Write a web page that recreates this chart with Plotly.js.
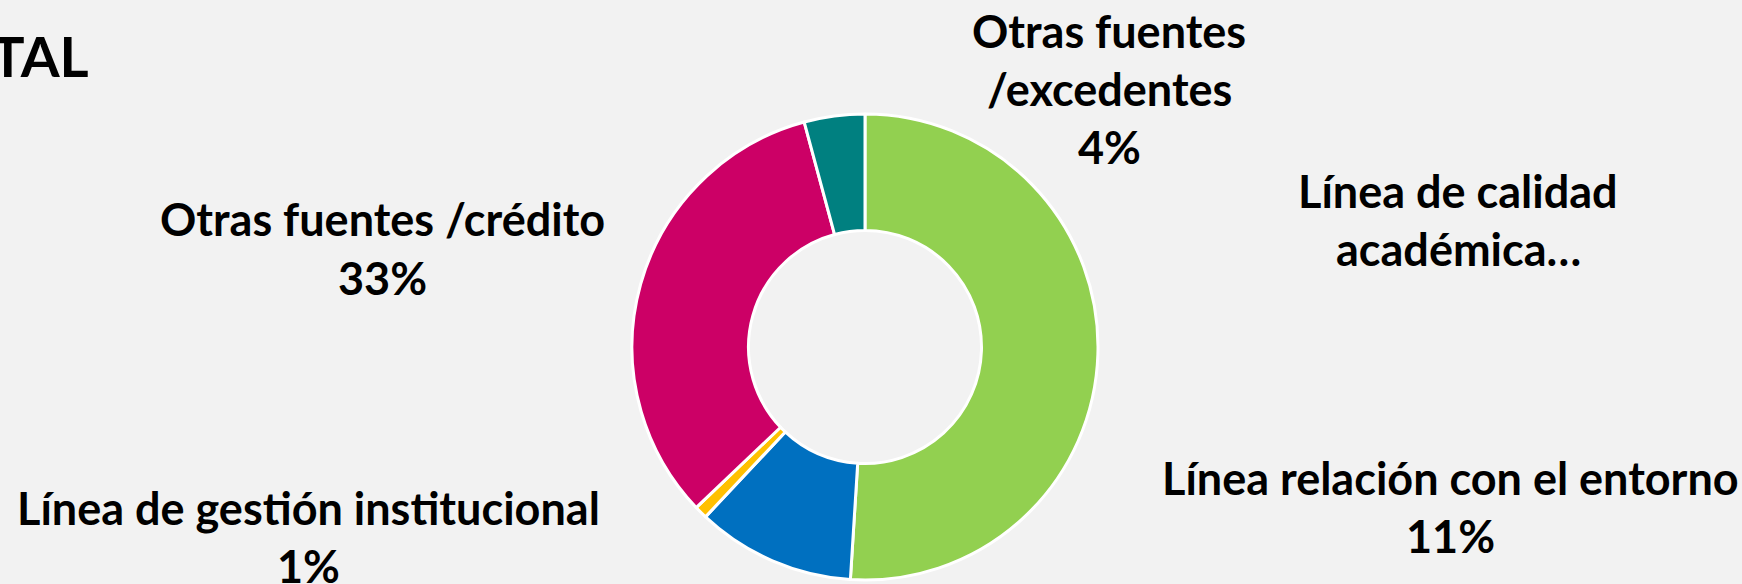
<!DOCTYPE html>
<html>
<head>
<meta charset="utf-8">
<script src="https://cdn.plot.ly/plotly-3.0.1.min.js"></script>
<style>
  html, body { margin: 0; padding: 0; background: #f2f2f2; }
  #chart { width: 1742px; height: 584px; }
</style>
</head>
<body>
<div id="chart"></div>
<script>
// ---- data ----
const categories = [
  "Línea de calidad académica",
  "Línea relación con el entorno",
  "Línea de gestión institucional",
  "Otras fuentes /crédito",
  "Otras fuentes /excedentes"
];
const values = [51.0, 11.0, 0.9, 32.9, 4.2];
const labelLines = [
  ["Línea de calidad", "académica…"],
  ["Línea relación con el entorno"],
  ["Línea de gestión institucional"],
  ["Otras fuentes /crédito"],
  ["Otras fuentes", "/excedentes"]
];
const showPercent = [false, true, true, true, true];
const titleText = "TAL";

// ---- styling / layout (not data) ----
const colors = ["#92D050", "#0070C0", "#FFC000", "#CC0066", "#008080"];
const W = 1742, H = 584;
const labelPos = [      // [centerX px, first line center Y px, line spacing px]
  [1458, 191, 58],
  [1450, 478, 58],
  [308, 508, 58],
  [382, 219, 59],
  [1109, 31, 58]
];
const FONT = "Lato, 'Open Sans', sans-serif";
const FS = 45;

const total = values.reduce((a, b) => a + b, 0);
const annotations = [];
categories.forEach((c, i) => {
  const lines = labelLines[i].slice();
  if (showPercent[i]) lines.push(Math.round(values[i] / total * 100) + "%");
  const [cx, cy, sp] = labelPos[i];
  lines.forEach((t, k) => {
    annotations.push({
      xref: "paper", yref: "paper",
      x: cx / W, y: 1 - (cy + k * sp) / H,
      xanchor: "center", yanchor: "middle",
      text: "<b>" + t + "</b>",
      showarrow: false,
      font: { family: FONT, size: FS, color: "#000000" }
    });
  });
});
annotations.push({
  xref: "paper", yref: "paper",
  x: 91 / W, y: 1 - 56 / H,
  xanchor: "right", yanchor: "middle",
  text: "<b>" + titleText + "</b>",
  showarrow: false,
  font: { family: FONT, size: 56, color: "#000000" }
});

const cxPie = 865, cyPie = 347, R = 233;
const trace = {
  type: "pie",
  labels: categories,
  values: values,
  hole: 0.5,
  sort: false,
  direction: "clockwise",
  rotation: 0,
  textinfo: "none",
  hoverinfo: "label+percent",
  marker: { colors: colors, line: { color: "#ffffff", width: 3 } },
  domain: {
    x: [(cxPie - 300) / W, (cxPie + 300) / W],
    y: [1 - (cyPie + R) / H, 1 - (cyPie - R) / H]
  },
  showlegend: false
};

const layout = {
  width: W, height: H,
  margin: { l: 0, r: 0, t: 0, b: 0 },
  paper_bgcolor: "#f2f2f2",
  plot_bgcolor: "#f2f2f2",
  showlegend: false,
  annotations: annotations
};

Plotly.newPlot("chart", [trace], layout, { displayModeBar: false, staticPlot: true });
</script>
</body>
</html>
